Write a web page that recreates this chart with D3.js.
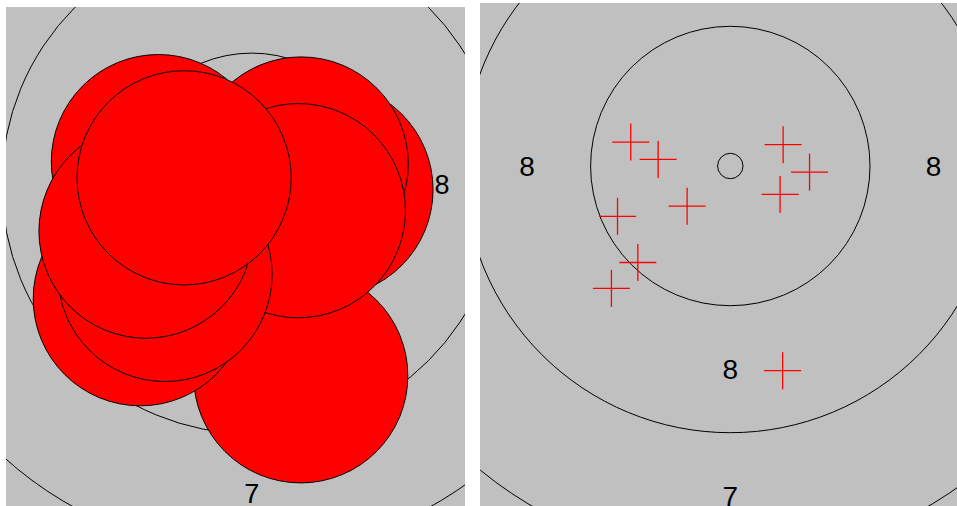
<!DOCTYPE html>
<html>
<head>
<meta charset="utf-8">
<script src="https://cdn.jsdelivr.net/npm/d3@7"></script>
<style>
  html, body { margin: 0; padding: 0; background: #ffffff; }
  svg { display: block; }
</style>
</head>
<body>
<svg id="chart" width="957" height="506"></svg>
<script>
// ---- Data (millimetres from target centre; y positive = up) ----
// Shots listed in the order they are drawn (later = on top)
const shotIds = ["6", "10", "4", "3", "5", "9", "8", "1", "7", "2"];
const shotX   = [-0.85, 1.03, 1.56, 1.04, 0.98, -2.34, -1.82, -1.96, -2.22, -1.42];
const shotY   = [-0.79, -4.03, -0.12, 0.42, -0.56, -2.41, -1.90, 0.47, -0.99, 0.13];

// Ring radii (mm) for scoring rings 10 .. 1 (10 m air rifle target)
const ringScores = [10, 9, 8, 7, 6, 5, 4, 3, 2, 1];
const ringRadii  = [0.25, 2.75, 5.25, 7.75, 10.25, 12.75, 15.25, 17.75, 20.25, 22.75];
// Scores that carry a printed number
const labelScores = ["8", "7", "6", "5", "4", "3", "2", "1"];

const pelletRadius = 2.25; // mm (4.5 mm pellet)

// ---- Layout ----
const panels = [
  { id: "left",  x: 6,   y: 7, w: 459, h: 499, cx: 251.7, cy: 184, k: 47.6, font: 27, mode: "holes" },
  { id: "right", x: 480, y: 3, w: 477, h: 503, cx: 730.3, cy: 166, k: 50.8, font: 28, mode: "cross" }
];

const svg = d3.select("#chart");
const defs = svg.append("defs");

panels.forEach(p => {
  const xs = d3.scaleLinear().domain([0, 1]).range([p.cx, p.cx + p.k]);
  const ys = d3.scaleLinear().domain([0, 1]).range([p.cy, p.cy - p.k]);
  const rs = d3.scaleLinear().domain([0, 1]).range([0, p.k]);

  defs.append("clipPath").attr("id", "clip-" + p.id)
    .append("rect").attr("x", p.x).attr("y", p.y).attr("width", p.w).attr("height", p.h);

  const g = svg.append("g").attr("clip-path", "url(#clip-" + p.id + ")");

  g.append("rect")
    .attr("x", p.x).attr("y", p.y).attr("width", p.w).attr("height", p.h)
    .attr("fill", "#c0c0c0");

  // rings
  g.append("g").selectAll("circle")
    .data(ringRadii)
    .join("circle")
    .attr("cx", xs(0)).attr("cy", ys(0))
    .attr("r", d => rs(d))
    .attr("fill", "none")
    .attr("stroke", "#000")
    .attr("stroke-width", 1);

  // ring numbers: placed mid-band, in the four directions; keep those inside the panel
  const labelData = [];
  labelScores.forEach(s => {
    const i = ringScores.indexOf(+s);
    const mid = (ringRadii[i] + ringRadii[i - 1]) / 2;
    [[-1, 0], [1, 0], [0, -1], [0, 1]].forEach(([dx, dy]) => {
      const px = xs(dx * mid), py = ys(dy * mid);
      const hw = p.font * 0.28, hh = p.font * 0.36;
      if (px - hw >= p.x && px + hw <= p.x + p.w && py - hh >= p.y && py + hh <= p.y + p.h + 1) {
        labelData.push({ s, x: dx * mid, y: dy * mid });
      }
    });
  });
  g.append("g").selectAll("text")
    .data(labelData)
    .join("text")
    .attr("x", d => xs(d.x))
    .attr("y", d => Math.min(ys(d.y) + p.font * 0.36, p.y + p.h - 0.5))
    .attr("text-anchor", "middle")
    .attr("font-family", "'Liberation Sans', Arial, sans-serif")
    .attr("font-size", p.font)
    .attr("fill", "#000")
    .text(d => d.s);

  const shots = shotX.map((x, i) => ({ id: shotIds[i], x, y: shotY[i] }));

  if (p.mode === "holes") {
    g.append("g").selectAll("circle")
      .data(shots)
      .join("circle")
      .attr("cx", d => xs(d.x))
      .attr("cy", d => ys(d.y))
      .attr("r", rs(pelletRadius))
      .attr("fill", "#ff0000")
      .attr("stroke", "#000")
      .attr("stroke-width", 1);
  } else {
    const arm = 18.5;
    const cg = g.append("g").selectAll("g")
      .data(shots)
      .join("g")
      .attr("transform", d => `translate(${xs(d.x)},${ys(d.y)})`);
    cg.append("line")
      .attr("x1", -arm).attr("x2", arm).attr("y1", 0).attr("y2", 0)
      .attr("stroke", "#ff0000").attr("stroke-width", 1.3);
    cg.append("line")
      .attr("x1", 0).attr("x2", 0).attr("y1", -arm).attr("y2", arm)
      .attr("stroke", "#ff0000").attr("stroke-width", 1.3);
  }
});
</script>
</body>
</html>
